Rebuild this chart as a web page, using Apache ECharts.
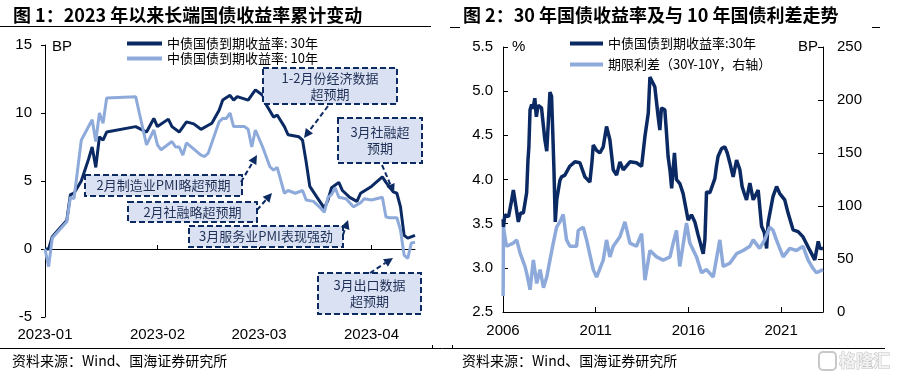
<!DOCTYPE html>
<html><head><meta charset="utf-8">
<script src="https://cdn.jsdelivr.net/npm/echarts@6/dist/echarts.min.js"></script>
<style>html,body{margin:0;padding:0;background:#fff}#c{width:897px;height:379px}</style>
</head><body><div id="c"></div>
<script>
// ---------- Chart 1 data (cumulative change since 2023 start, BP) ----------
const dates30 = ['2023-01-01','2023-01-02','2023-01-03','2023-01-05','2023-01-07','2023-01-08','2023-01-09','2023-01-11','2023-01-13','2023-01-14','2023-01-15','2023-01-16','2023-01-17','2023-01-18','2023-01-26','2023-01-29','2023-01-31','2023-02-01','2023-02-04','2023-02-05','2023-02-07','2023-02-09','2023-02-11','2023-02-13','2023-02-15','2023-02-16','2023-02-18','2023-02-19','2023-02-21','2023-02-22','2023-02-23','2023-02-26','2023-02-28','2023-03-02','2023-03-03','2023-03-05','2023-03-06','2023-03-08','2023-03-09','2023-03-12','2023-03-13','2023-03-14','2023-03-15','2023-03-17','2023-03-19','2023-03-20','2023-03-21','2023-03-23','2023-03-24','2023-03-26','2023-03-28','2023-03-29','2023-04-01','2023-04-04','2023-04-05','2023-04-07','2023-04-08','2023-04-09','2023-04-10','2023-04-11','2023-04-13'];
const vals30 = [0,0,0.9,1.5,2.1,4.0,4.1,5.0,6.6,7.5,6.0,8.25,8.0,8.6,9.0,8.6,9.6,9.0,9.55,9.0,8.6,9.35,9.2,8.8,9.1,9.25,10.2,10.95,11.3,10.95,11.2,10.95,11.7,11.3,10.6,9.7,9.85,9.0,8.4,8.25,8.0,6.4,4.6,3.8,3.0,3.6,4.5,4.9,4.3,3.8,3.5,4.1,4.6,5.3,4.9,4.2,4.1,3.1,1.0,0.8,1.0];
const dates10 = ['2023-01-01','2023-01-02','2023-01-03','2023-01-07','2023-01-08','2023-01-09','2023-01-11','2023-01-14','2023-01-15','2023-01-16','2023-01-17','2023-01-18','2023-01-26','2023-01-27','2023-01-29','2023-01-31','2023-02-01','2023-02-02','2023-02-05','2023-02-06','2023-02-07','2023-02-08','2023-02-09','2023-02-13','2023-02-14','2023-02-15','2023-02-18','2023-02-19','2023-02-20','2023-02-21','2023-02-22','2023-02-25','2023-02-26','2023-02-27','2023-02-28','2023-03-02','2023-03-04','2023-03-05','2023-03-06','2023-03-08','2023-03-09','2023-03-11','2023-03-13','2023-03-14','2023-03-16','2023-03-18','2023-03-19','2023-03-20','2023-03-21','2023-03-22','2023-03-23','2023-03-25','2023-03-27','2023-03-29','2023-03-30','2023-04-01','2023-04-04','2023-04-05','2023-04-06','2023-04-08','2023-04-09','2023-04-10','2023-04-11','2023-04-12','2023-04-13'];
const vals10 = [0,-1.3,0.8,2.0,3.8,3.7,8.0,9.5,7.9,10.0,9.25,11.1,11.2,10.0,7.65,8.75,7.65,7.3,7.9,7.5,7.5,6.9,7.8,6.9,6.8,7.05,9.35,9.6,9.6,10.0,9.0,9.0,8.8,7.5,8.75,7.5,6.05,5.8,6.0,4.1,4.3,4.1,4.3,3.6,3.5,3.0,2.7,3.8,4.0,4.5,3.8,3.7,3.1,3.4,3.7,3.6,3.8,2.35,2.3,2.3,1.4,-0.45,-0.7,0.45,0.5];
const monthTicks1 = ['2023-01-01','2023-02-01','2023-03-01','2023-04-01'];

// ---------- Chart 2 data ----------
const yield30 = [
['2006-01-04',3.55],['2006-01-10',3.46],['2006-02-06',3.60],['2006-04-20',3.58],['2006-06-15',3.75],['2006-07-24',3.88],['2006-09-12',3.70],['2006-10-30',3.52],['2006-12-12',3.62],
['2007-02-06',3.62],['2007-04-12',3.85],['2007-05-08',4.22],['2007-05-26',4.37],['2007-06-18',4.79],['2007-07-20',4.85],['2007-08-15',4.80],['2007-09-20',4.92],['2007-10-20',4.71],['2007-11-25',4.84],
['2008-01-30',4.81],['2008-03-08',4.60],['2008-04-05',4.45],['2008-05-12',4.32],['2008-06-14',4.67],['2008-07-14',4.99],['2008-08-15',4.94],['2008-09-06',4.56],['2008-10-01',4.11],['2008-10-27',3.52],['2008-11-25',3.77],
['2009-01-26',3.99],['2009-02-28',4.03],['2009-05-04',4.05],['2009-08-08',4.15],['2009-11-17',4.20],
['2010-02-24',4.19],['2010-06-03',4.03],['2010-09-09',3.97],['2010-10-20',4.20],['2010-11-14',4.39],
['2011-01-19',4.33],['2011-03-25',4.30],['2011-05-30',4.37],['2011-08-03',4.60],['2011-10-08',4.45],['2011-12-13',4.11],
['2012-02-17',4.05],['2012-04-23',4.20],['2012-06-28',4.11],['2012-11-06',4.20],
['2013-03-14',4.19],['2013-06-24',4.15],['2013-08-29',4.49],['2013-11-02',4.75],['2013-12-05',5.16],
['2014-01-08',5.18],['2014-03-11',5.05],['2014-05-16',4.71],['2014-06-18',4.56],['2014-07-20',4.81],['2014-09-24',4.79],['2014-10-27',4.53],['2014-11-28',4.26],
['2015-01-05',4.10],['2015-02-06',3.90],['2015-04-02',4.30],['2015-05-12',4.00],['2015-07-20',3.95],['2015-09-20',3.84],['2015-12-28',3.54],
['2016-03-03',3.60],['2016-05-08',3.52],['2016-07-12',3.37],['2016-10-20',3.16],['2016-11-22',3.32],['2016-12-24',3.86],
['2017-02-28',3.85],['2017-06-06',4.01],['2017-07-08',4.15],['2017-08-08',4.26],['2017-10-16',4.35],['2017-12-20',4.37],
['2018-02-06',4.30],['2018-03-28',4.19],['2018-06-02',4.03],['2018-08-08',4.22],['2018-10-12',4.11],['2018-11-25',3.92],
['2019-01-03',3.85],['2019-02-20',3.77],['2019-04-27',3.96],['2019-07-02',3.77],['2019-10-08',3.88],['2019-12-14',3.47],
['2020-02-06',3.40],['2020-03-22',3.22],['2020-04-20',3.51],['2020-07-27',3.81],['2020-10-05',3.92],['2020-12-06',3.84],
['2021-03-14',3.77],['2021-05-19',3.62],['2021-08-25',3.43],['2021-12-02',3.41],
['2022-03-10',3.35],['2022-07-20',3.20],['2022-10-27',3.09],
['2023-01-03',3.30],['2023-02-06',3.22],['2023-04-05',3.22]
];
const spread = [
['2006-01-04',15],['2006-01-10',80],['2006-03-10',62],['2006-07-24',65],['2006-09-28',68],['2006-12-01',56],
['2007-03-10',43],['2007-04-20',35],['2007-06-18',21],['2007-08-22',49],['2007-10-28',27],
['2008-01-02',40],['2008-03-08',23],['2008-05-12',33],['2008-07-14',49],['2008-09-17',65],['2008-11-22',80],
['2009-01-26',85],['2009-04-01',92],['2009-06-06',68],['2009-08-12',62],['2009-12-20',62],
['2010-01-22',77],['2010-05-01',80],['2010-07-06',68],['2010-11-14',40],
['2011-01-19',33],['2011-05-30',49],['2011-08-03',68],['2011-10-08',52],['2011-12-13',62],
['2012-04-23',71],['2012-07-30',85],['2012-11-06',65],
['2013-03-14',62],['2013-06-24',74],['2013-08-29',30],['2013-12-05',58],
['2014-04-16',52],['2014-08-22',49],
['2015-01-05',52],['2015-03-08',65],['2015-05-12',77],['2015-07-16',43],['2015-11-25',84],
['2016-01-30',65],['2016-06-10',52],['2016-09-16',37],['2016-12-24',40],
['2017-05-05',33],['2017-09-12',68],['2017-11-17',43],
['2018-03-28',46],['2018-08-08',55],['2018-12-16',58],
['2019-04-27',62],['2019-07-02',68],['2019-11-06',60],
['2020-02-14',68],['2020-05-22',80],['2020-07-27',77],['2020-10-01',68],
['2021-02-10',52],['2021-06-21',60],['2021-10-30',58],
['2022-03-10',62],['2022-06-18',49],['2022-09-24',41],['2022-11-28',37],
['2023-04-05',40]
];
const yearTicks2 = ['2006-01-01','2011-01-01','2016-01-01','2021-01-01'];

// parse 'YYYY-MM-DD' to a local timestamp (value axis carries dates as ms)
function ts(s) { const p = s.split('-').map(Number); return new Date(p[0], p[1]-1, p[2]).getTime(); }

const NAVY = '#0b2a63', LIGHT = '#8eaadb', BOXFILL = '#d9e1f2', BOXLINE = '#0d2b63', TXT = '#1f2f55';
const SANS = '"Liberation Sans", Arial, sans-serif';
const CJK = '"Noto Sans CJK SC", sans-serif';

function box(x, y, w, h, text, lh) {
  return [
    {type:'rect', z:100, shape:{x:x, y:y, width:w, height:h}, style:{fill:BOXFILL, stroke:BOXLINE, lineWidth:2, lineDash:[6,3]}},
    {type:'text', z:101, x:x + w/2, y:y + h/2, style:{text:text, font:'13px ' + CJK, fill:TXT, align:'center', verticalAlign:'middle', lineHeight: lh || 16}}
  ];
}
function arrow(x1, y1, x2, y2) {
  const dx = x2 - x1, dy = y2 - y1, L = Math.sqrt(dx*dx + dy*dy), ux = dx/L, uy = dy/L;
  const hl = 9, hw = 4.5, bx = x2 - ux*hl, by = y2 - uy*hl;
  return [
    {type:'line', z:100, shape:{x1:x1, y1:y1, x2:bx, y2:by}, style:{stroke:BOXLINE, lineWidth:2, lineDash:[5,3]}},
    {type:'polygon', z:100, shape:{points:[[x2,y2],[bx - uy*hw, by + ux*hw],[bx + uy*hw, by - ux*hw]]}, style:{fill:BOXLINE}}
  ];
}

const graphics = [].concat(
  [{type:'text', x:13, y:15, style:{text:'图 1：2023 年以来长端国债收益率累计变动', font:'bold 18px ' + CJK, fill:'#000', verticalAlign:'middle'}},
   {type:'text', x:463, y:15, style:{text:'图 2：30 年国债收益率及与 10 年国债利差走势', font:'bold 18px ' + CJK, fill:'#000', verticalAlign:'middle'}},
   {type:'line', shape:{x1:0, y1:26.5, x2:431, y2:26.5}, style:{stroke:'#000', lineWidth:1}},
   {type:'line', shape:{x1:450, y1:27.5, x2:460, y2:27.5}, style:{stroke:'#000', lineWidth:1}},
   {type:'line', shape:{x1:872, y1:27.5, x2:880, y2:27.5}, style:{stroke:'#000', lineWidth:1}},
   {type:'line', shape:{x1:0, y1:348.5, x2:885, y2:348.5}, style:{stroke:'#000', lineWidth:1}},
   {type:'line', shape:{x1:432.5, y1:345, x2:432.5, y2:348}, style:{stroke:'#000', lineWidth:1}},
   {type:'line', shape:{x1:452.5, y1:345, x2:452.5, y2:348}, style:{stroke:'#000', lineWidth:1}},
   {type:'text', x:12, y:361, style:{text:'资料来源：Wind、国海证券研究所', font:'14px ' + CJK, fill:'#000', verticalAlign:'middle'}},
   {type:'text', x:462, y:361, style:{text:'资料来源：Wind、国海证券研究所', font:'14px ' + CJK, fill:'#000', verticalAlign:'middle'}},
   {type:'rect', shape:{x:819, y:352, width:17, height:18, r:4}, style:{fill:'none', stroke:'#c8c8c8', lineWidth:2}},
   {type:'text', x:839, y:361, style:{text:'格隆汇', font:'bold 17px ' + CJK, fill:'#f2f2f2', stroke:'#c0c0c0', lineWidth:1, verticalAlign:'middle'}},
   {type:'text', x:52, y:47, style:{text:'BP', font:'15px ' + SANS, fill:'#000', verticalAlign:'middle'}},
   {type:'text', x:512, y:47, style:{text:'%', font:'15px ' + SANS, fill:'#000', verticalAlign:'middle'}},
   {type:'text', x:798, y:47, style:{text:'BP', font:'15px ' + SANS, fill:'#000', verticalAlign:'middle'}}],
  box(263, 68, 134, 36, '1-2月份经济数据\n超预期'),
  box(338, 118, 84, 45, '3月社融超\n预期'),
  box(85, 175, 157, 21, '2月制造业PMI略超预期'),
  box(128, 202, 129, 20, '2月社融略超预期'),
  box(189, 226, 154, 21, '3月服务业PMI表现强劲'),
  box(318, 273, 103, 41, '3月出口数据\n超预期'),
  arrow(328, 106, 304, 138),
  arrow(382, 165, 394, 193),
  arrow(241, 182, 257, 155),
  arrow(257, 210, 272, 193),
  arrow(343, 235, 348, 220),
  arrow(370, 273, 393, 258)
);

const fmtMonth = v => { const d = new Date(v); return d.getFullYear() + '-' + String(d.getMonth()+1).padStart(2,'0'); };
const fmtYear = v => String(new Date(v).getFullYear());

const option = {
  animation: false,
  backgroundColor: '#fff',
  grid: [
    {left:45, top:45, width:370, height:272, outerBoundsMode:'none', containLabel:false},
    {left:503, top:47, width:320, height:265, outerBoundsMode:'none', containLabel:false}
  ],
  legend: [
    {left:122, top:32, orient:'vertical', itemWidth:35, itemHeight:4, itemGap:2, icon:'rect',
     data:[{name:'中债国债到期收益率: 30年'}, {name:'中债国债到期收益率: 10年'}],
     textStyle:{fontSize:13, fontFamily:CJK, color:'#000', lineHeight:12}},
    {left:565, top:32, orient:'vertical', itemWidth:33, itemHeight:4, itemGap:8, icon:'rect',
     data:[{name:'中债国债到期收益率:30年'}, {name:'期限利差（30Y-10Y，右轴）'}],
     textStyle:{fontSize:13, fontFamily:CJK, color:'#000', lineHeight:12}}
  ],
  xAxis: [
    {type:'value', gridIndex:0, min:ts('2023-01-01'), max:ts('2023-04-13'),
     axisLine:{show:true, onZero:true, lineStyle:{color:'#000', width:1}},
     axisTick:{show:true, inside:true, length:4, customValues:monthTicks1.map(ts), lineStyle:{color:'#000'}},
     axisLabel:{customValues:monthTicks1.map(ts), formatter:fmtMonth, margin:10, fontSize:15, fontFamily:SANS, color:'#000'},
     splitLine:{show:false}},
    {type:'value', gridIndex:1, min:ts('2006-01-01'), max:ts('2023-04-07'),
     axisLine:{show:true, lineStyle:{color:'#000', width:1}},
     axisTick:{show:true, inside:true, length:5, customValues:yearTicks2.map(ts), lineStyle:{color:'#000'}},
     axisLabel:{customValues:yearTicks2.map(ts), formatter:fmtYear, margin:11, fontSize:15, fontFamily:SANS, color:'#000'},
     splitLine:{show:false}}
  ],
  yAxis: [
    {type:'value', gridIndex:0, min:-5, max:15, interval:5,
     axisLine:{show:true, onZero:false, lineStyle:{color:'#000'}},
     axisTick:{show:true, inside:false, length:4, lineStyle:{color:'#000'}},
     axisLabel:{margin:13, fontSize:15, fontFamily:SANS, color:'#000'},
     splitLine:{show:false}},
    {type:'value', gridIndex:1, min:2.5, max:5.5, interval:0.5, position:'left',
     axisLine:{show:true, onZero:false, lineStyle:{color:'#000'}},
     axisTick:{show:true, inside:true, length:5, lineStyle:{color:'#000'}},
     axisLabel:{margin:10, fontSize:15, fontFamily:SANS, color:'#000', formatter: v => v.toFixed(1)},
     splitLine:{show:false}},
    {type:'value', gridIndex:1, min:0, max:250, interval:50, position:'right',
     axisLine:{show:true, onZero:false, lineStyle:{color:'#000'}},
     axisTick:{show:true, inside:true, length:5, lineStyle:{color:'#000'}},
     axisLabel:{margin:14, fontSize:15, fontFamily:SANS, color:'#000'},
     splitLine:{show:false}}
  ],
  series: [
    {name:'中债国债到期收益率: 30年', type:'line', xAxisIndex:0, yAxisIndex:0, symbol:'none',
     lineStyle:{color:NAVY, width:3}, itemStyle:{color:NAVY}, z:3,
     data: dates30.map((d,i) => [ts(d), vals30[i]])},
    {name:'中债国债到期收益率: 10年', type:'line', xAxisIndex:0, yAxisIndex:0, symbol:'none',
     lineStyle:{color:LIGHT, width:3}, itemStyle:{color:LIGHT}, z:4,
     data: dates10.map((d,i) => [ts(d), vals10[i]])},
    {name:'中债国债到期收益率:30年', type:'line', xAxisIndex:1, yAxisIndex:1, symbol:'none',
     lineStyle:{color:NAVY, width:3.5}, itemStyle:{color:NAVY}, z:3,
     data: yield30.map(p => [ts(p[0]), p[1]])},
    {name:'期限利差（30Y-10Y，右轴）', type:'line', xAxisIndex:1, yAxisIndex:2, symbol:'none',
     lineStyle:{color:LIGHT, width:3.5}, itemStyle:{color:LIGHT}, z:4,
     data: spread.map(p => [ts(p[0]), p[1]])}
  ],
  graphic: graphics
};

const chart = echarts.init(document.getElementById('c'), null, {renderer:'canvas'});
chart.setOption(option);
</script></body></html>
